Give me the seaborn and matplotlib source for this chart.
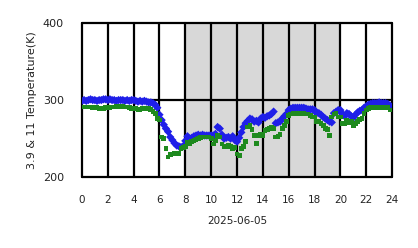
import numpy as np
import pandas as pd
import matplotlib
matplotlib.use("Agg")
import matplotlib.pyplot as plt
import seaborn as sns

# hourly blocks of 10-minute samples
bt39 = [
    299, 300, 299, 300, 301, 300,
    300, 299, 300, 300, 301, 301,
    300, 301, 300, 300, 299, 300,
    300, 300, 299, 300, 299, 300,
    300, 299, 298, 299, 298, 299,
    298, 297, 297, 296, 294, 290,
    281, 274, 268, 263, 259, 252,
    248, 244, 241, 240, 239, 240,
    247, 253, 250, 251, 253, 254,
    255, 254, 255, 254, 254, 254,
    254, 254, 256, 265, 263, 255,
    250, 251, 252, 250, 253, 248,
    246, 251, 258, 265, 270, 273,
    276, 275, 272, 273, 271, 276,
    278, 277, 279, 280, 282, 285,
    270, 271, 272, 276, 279, 282,
    287, 289, 290, 290, 290, 290,
    290, 290, 289, 288, 288, 288,
    287, 283, 283, 281, 278, 276,
    274, 272, 271, 283, 285, 287,
    287, 282, 279, 283, 282, 279,
    277, 281, 284, 286, 287, 290,
    292, 294, 295, 296, 296, 296,
    297, 296, 296, 296, 295, 293,
]
bt11 = [
    291, 291, 291, 291, 291, 290,
    290, 290, 289, 289, 289, 290,
    290, 290, 291, 291, 292, 292,
    292, 292, 291, 291, 290, 289,
    289, 289, 288, 288, 289, 289,
    289, 289, 288, 285, 283, 276,
    274, 252, 250, 237, 226, 229,
    230, 231, 231, 231, 237, 238,
    240, 245, 243, 246, 247, 249,
    250, 251, 252, 252, 252, 252,
    250, 243, 248, 254, 252, 243,
    239, 240, 241, 240, 237, 238,
    230, 228, 237, 240, 246, 265,
    267, 262, 254, 244, 254, 255,
    254, 261, 262, 263, 264, 263,
    252, 253, 255, 263, 267, 272,
    280, 282, 283, 283, 283, 283,
    283, 283, 282, 282, 280, 278,
    278, 272, 272, 270, 267, 263,
    262, 254, 278, 282, 283, 278,
    278, 270, 270, 273, 271, 272,
    267, 270, 272, 275, 276, 283,
    287, 289, 290, 290, 290, 290,
    290, 290, 290, 290, 290, 287,
]
hours = [i / 6 for i in range(len(bt39))]
xticks = list(range(0, 25, 2))
yticks = [200, 300, 400]
shade = (8, 20)

sns.set_theme(style="white")
plt.rcParams['font.family'] = ['DejaVu Sans']

df = pd.DataFrame({"hour": hours, "b39": bt39, "b11": bt11})

fig = plt.figure(figsize=(4.18, 2.48), dpi=100)
ax = fig.add_axes([0.196, 0.286, 0.742, 0.621])
ax.axvspan(shade[0], shade[1], color="#d8d8d8", zorder=0, lw=0)

sns.scatterplot(data=df, x="hour", y="b39", ax=ax, marker="D", s=18,
                color="#1f1fe8", edgecolor="none", zorder=3)
sns.scatterplot(data=df, x="hour", y="b11", ax=ax, marker="s", s=12,
                color="#1e8a1e", edgecolor="none", zorder=4)

ax.set_xlim(0, 24)
ax.set_ylim(200, 400)
ax.set_xticks(xticks)
ax.set_yticks(yticks)
ax.grid(True, color="black", lw=1.6, zorder=2)
ax.set_axisbelow(False)
for s in ax.spines.values():
    s.set_visible(False)
ax.tick_params(axis="both", direction="out", length=7, width=1.6,
               color="black", labelsize=8, pad=6, labelcolor="#222222")
ax.tick_params(axis="x", labelsize=7.5)
ax.set_xlabel("2025-06-05", fontsize=7.5, labelpad=8, color="#222222")
ax.set_ylabel("3.9 & 11 Temperature(K)", fontsize=8, labelpad=4, color="#222222")
for ln in ax.get_xgridlines() + ax.get_ygridlines():
    ln.set_clip_on(False)
    ln.set_zorder(2)

fig.savefig("out.png", dpi=100)
